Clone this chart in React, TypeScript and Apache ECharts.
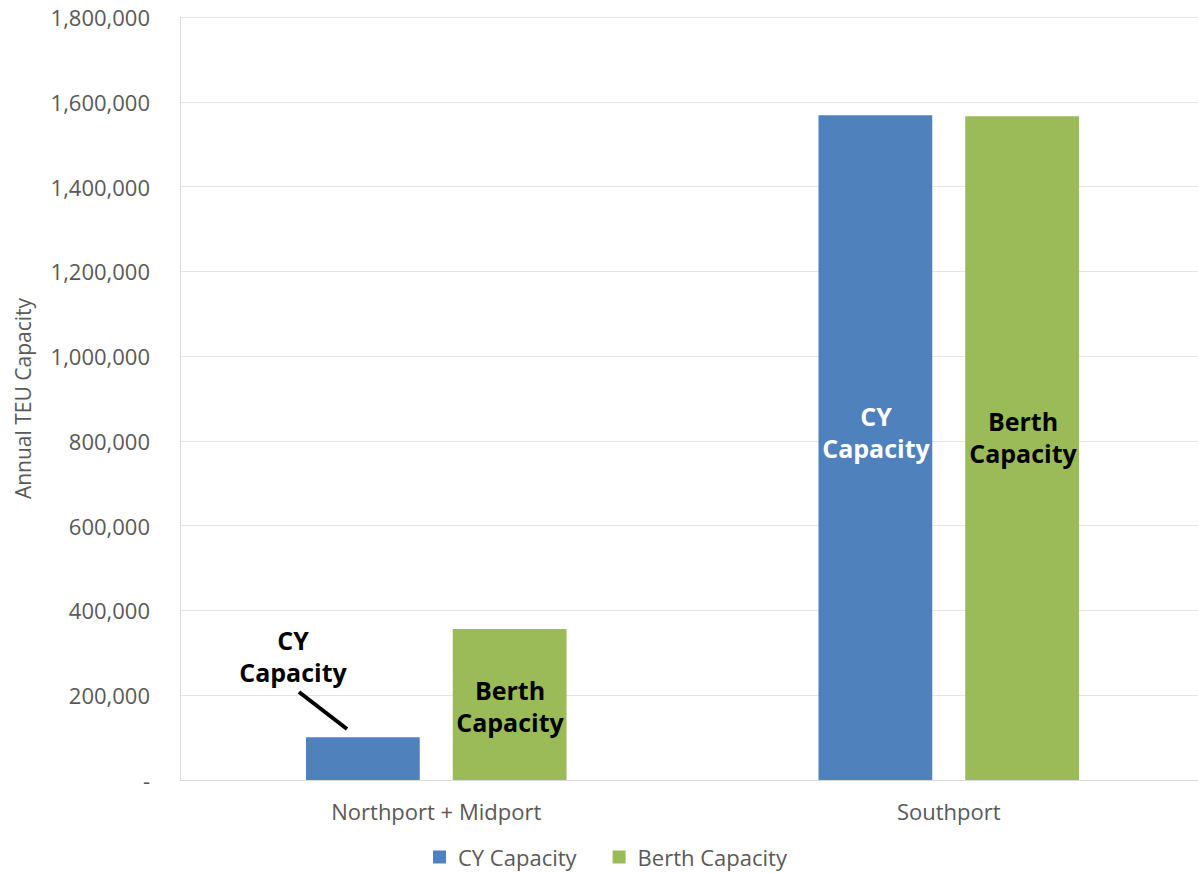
import React, { useEffect, useRef } from "react";
import * as echarts from "echarts";

const categories = ["Northport + Midport", "Southport"];
const cyCapacity = [101000, 1568000];
const berthCapacity = [356000, 1566000];
const yTicks = { min: 0, max: 1800000, interval: 200000 };

const FONT = "'Open Sans', 'Noto Sans', sans-serif";
const BLUE = "#4f81bd";
const GREEN = "#9bbb59";

export default function App() {
  const ref = useRef<HTMLDivElement>(null);

  useEffect(() => {
    document.body.style.margin = "0";
    const chart = echarts.init(ref.current!, null, { renderer: "svg" });
    const labelStyle = {
      fontFamily: FONT,
      fontWeight: "bold" as const,
      fontSize: 25,
      lineHeight: 32,
      align: "center" as const,
      verticalAlign: "middle" as const,
    };
    chart.setOption({
      animation: false,
      textStyle: { fontFamily: FONT },
      grid: { left: 180, right: -7, top: 17, bottom: 93, outerBoundsMode: "none" },
      legend: {
        bottom: 0,
        left: 428,
        itemWidth: 13,
        itemHeight: 13,
        itemGap: 36,
        icon: "rect",
        textStyle: { fontFamily: FONT, fontSize: 22, color: "#595959", padding: [0, 0, 0, 7] },
        data: ["CY Capacity", "Berth Capacity"],
      },
      xAxis: {
        type: "category",
        data: categories,
        axisLine: { show: true, lineStyle: { color: "#d9d9d9", width: 1 } },
        axisTick: { show: false },
        axisLabel: { margin: 20, fontSize: 22, color: "#595959", fontFamily: FONT },
      },
      yAxis: {
        type: "value",
        min: yTicks.min,
        max: yTicks.max,
        interval: yTicks.interval,
        name: "Annual TEU Capacity",
        nameLocation: "middle",
        nameGap: 147,
        nameRotate: 90,
        nameTextStyle: { fontSize: 21, color: "#595959", fontFamily: FONT },
        axisLine: { show: true, lineStyle: { color: "#d9d9d9", width: 1 } },
        axisTick: { show: false },
        splitLine: { lineStyle: { color: "#e4e4e4", width: 1 } },
        axisLabel: {
          margin: 30,
          fontSize: 22,
          color: "#595959",
          fontFamily: FONT,
          formatter: (v: number) => (v === 0 ? "-" : v.toLocaleString("en-US")),
        },
      },
      series: [
        {
          name: "CY Capacity",
          type: "bar",
          data: cyCapacity,
          barWidth: "22.2%",
          barGap: "29%",
          itemStyle: { color: BLUE },
        },
        {
          name: "Berth Capacity",
          type: "bar",
          data: berthCapacity,
          barWidth: "22.2%",
          itemStyle: { color: GREEN },
        },
      ],
      graphic: [
        {
          type: "text",
          x: 293,
          y: 656,
          z: 100,
          style: { ...labelStyle, text: "CY\nCapacity", fill: "#000" },
        },
        {
          type: "line",
          z: 100,
          shape: { x1: 299, y1: 692, x2: 347, y2: 729 },
          style: { stroke: "#000", lineWidth: 4 },
        },
        {
          type: "text",
          x: 510,
          y: 706,
          z: 100,
          style: { ...labelStyle, text: "Berth\nCapacity", fill: "#000" },
        },
        {
          type: "text",
          x: 876,
          y: 432,
          z: 100,
          style: { ...labelStyle, text: "CY\nCapacity", fill: "#fff" },
        },
        {
          type: "text",
          x: 1023,
          y: 437,
          z: 100,
          style: { ...labelStyle, text: "Berth\nCapacity", fill: "#000" },
        },
      ],
    });
    return () => chart.dispose();
  }, []);

  return <div ref={ref} style={{ width: 1198, height: 873 }} />;
}
